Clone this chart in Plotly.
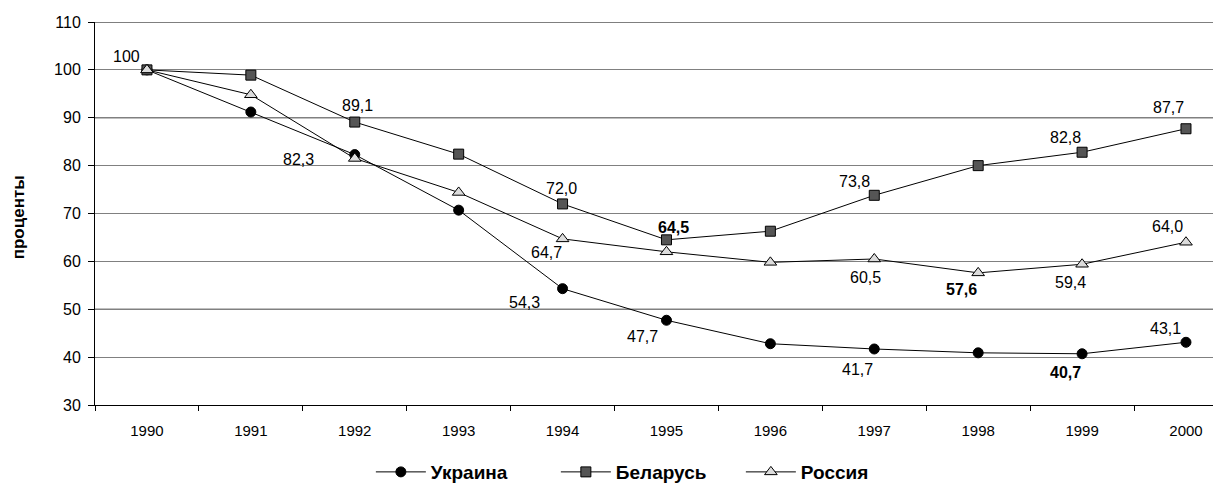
import plotly.graph_objects as go

years = ["1990", "1991", "1992", "1993", "1994", "1995", "1996", "1997", "1998", "1999", "2000"]
ukraine = [100, 91.2, 82.3, 70.7, 54.3, 47.7, 42.8, 41.7, 40.9, 40.7, 43.1]
belarus = [100, 98.9, 89.1, 82.4, 72.0, 64.5, 66.3, 73.8, 80.0, 82.8, 87.7]
russia = [100, 94.8, 81.5, 74.4, 64.7, 62.0, 59.8, 60.5, 57.6, 59.4, 64.0]

y_ticks = [30, 40, 50, 60, 70, 80, 90, 100, 110]

# labelled points: (year index, x offset px, y offset px (up), bold)
ukraine_labels = [(0, -20, 13, False), (2, -56, -5, False), (4, -38, -14, False),
                  (5, -24, -16, False), (7, -17, -21, False), (9, -17, -19, True),
                  (10, -20, 14, False)]
belarus_labels = [(2, 3, 17, False), (4, -1, 15, False), (5, 7, 12, True),
                  (7, -20, 14, False), (9, -17, 15, False), (10, -17, 21, False)]
russia_labels = [(4, -16, -14, False), (7, -9, -19, False), (8, -17, -17, True),
                 (9, -12, -18, False), (10, -18, 16, False)]

FONT = "Liberation Sans, Arial, sans-serif"

fig = go.Figure()
fig.add_trace(go.Scatter(
    x=years, y=ukraine, name="Украина", mode="lines+markers",
    line=dict(color="black", width=1),
    marker=dict(symbol="circle", size=10, color="black", line=dict(color="black", width=1)),
))
fig.add_trace(go.Scatter(
    x=years, y=belarus, name="Беларусь", mode="lines+markers",
    line=dict(color="black", width=1),
    marker=dict(symbol="square", size=10, color="#555555", line=dict(color="black", width=1)),
))
fig.add_trace(go.Scatter(
    x=years, y=russia, name="Россия", mode="lines+markers",
    line=dict(color="black", width=1),
    marker=dict(symbol="triangle-up", size=11, color="#dcdcdc", line=dict(color="black", width=1)),
))


def fmt(v):
    if v == 100:
        return "100"
    return f"{v:.1f}".replace(".", ",")


annotations = []
for series, labels in ((ukraine, ukraine_labels), (belarus, belarus_labels), (russia, russia_labels)):
    for idx, dx, dy, bold in labels:
        annotations.append(dict(
            x=idx, y=series[idx], xref="x", yref="y", text=fmt(series[idx]),
            showarrow=False, xshift=dx, yshift=dy,
            font=dict(family=FONT, size=16, color="black", weight="bold" if bold else "normal"),
        ))

annotations.append(dict(
    x=-0.0684, y=0.49, xref="paper", yref="paper", xanchor="center", yanchor="middle",
    text="проценты", textangle=-90, showarrow=False,
    font=dict(family=FONT, size=17, color="black", weight="bold"),
))

shapes = []
for v in [50, 70, 90, 110]:
    shapes.append(dict(type="line", xref="paper", yref="y", x0=0, x1=1, y0=v, y1=v,
                       line=dict(color="black", width=1), layer="below"))

fig.update_layout(
    width=1213, height=480,
    margin=dict(l=87, r=0, t=14, b=83, autoexpand=False),
    paper_bgcolor="white", plot_bgcolor="white",
    font=dict(family=FONT, size=15, color="black"),
    showlegend=True,
    legend=dict(orientation="h", x=0.245, xanchor="left", y=-0.175, yanchor="middle",
                font=dict(family=FONT, size=19, color="black", weight="bold"),
                itemwidth=50, entrywidth=120, tracegroupgap=0),
    xaxis=dict(type="category", range=[-0.5, 10.337], tickson="boundaries",
               ticks="outside", ticklen=5, tickcolor="black", showline=True,
               linecolor="black", linewidth=1, showgrid=False, zeroline=False,
               ticklabelstandoff=12,
               tickfont=dict(family=FONT, size=15, color="black")),
    yaxis=dict(range=[30, 110], tickvals=y_ticks, ticks="outside", ticklen=6,
               tickcolor="black", showline=True, linecolor="black", linewidth=1,
               showgrid=True, gridcolor="#808080", gridwidth=1, zeroline=False,
               ticklabelstandoff=4,
               tickfont=dict(family=FONT, size=16, color="black")),
    annotations=annotations,
    shapes=shapes,
)

fig.write_html("out.html")
